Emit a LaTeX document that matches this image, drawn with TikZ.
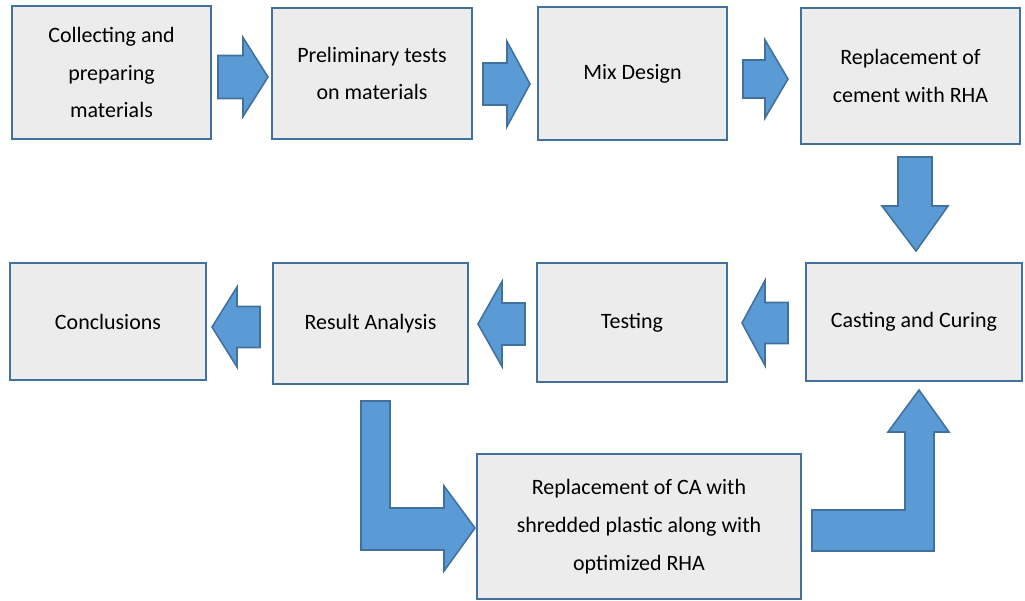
\documentclass[tikz,border=0pt]{standalone}
\usepackage{fontspec}
\setmainfont{Carlito}
\usepackage{tikz}
\definecolor{boxfill}{RGB}{236,236,236}
\definecolor{boxline}{RGB}{65,113,156}
\definecolor{arrowfill}{RGB}{91,155,213}
\tikzset{
  stage/.style={rectangle,draw=boxline,fill=boxfill,line width=1.2pt,align=center,
    font=\fontsize{12.5}{21.5}\selectfont,inner sep=0pt},
  blockarrow/.style={draw=boxline,fill=arrowfill,line width=0.9pt,line join=miter}
}
\begin{document}
\begin{tikzpicture}[x=0.02cm,y=-0.02cm]
  \useasboundingbox (0,0) rectangle (1025,601);

    \node[stage,minimum width=3.98cm,minimum height=2.66cm] (collect) at (111.5,72.5) {Collecting and\\preparing\\materials};
    \node[stage,minimum width=4.00cm,minimum height=2.62cm] (prelim)  at (372,73.5)   {Preliminary tests\\on materials};
    \node[stage,minimum width=3.78cm,minimum height=2.66cm] (mix)     at (632.5,73.5) {Mix Design};
    \node[stage,minimum width=4.38cm,minimum height=2.72cm] (cement)  at (910.5,76)   {Replacement of\\cement with RHA};
    \node[stage,minimum width=4.32cm,minimum height=2.36cm] (casting) at (914,322)    {Casting and Curing};
    \node[stage,minimum width=3.80cm,minimum height=2.38cm] (testing) at (632,322.5)  {Testing};
    \node[stage,minimum width=3.90cm,minimum height=2.42cm] (result)  at (370.5,323.5) {Result Analysis};
    \node[stage,minimum width=3.92cm,minimum height=2.34cm] (concl)   at (108,321.5)  {Conclusions};
    \node[stage,minimum width=6.48cm,minimum height=2.90cm] (plastic) at (639,526.5)  {Replacement of CA with\\shredded plastic along with\\optimized RHA};

    % straight block arrows: tail x / head base x / tip x / centre y / shaft half / head half
    \foreach \tx/\bx/\px/\cy/\sh/\hh in {218/243/268/77/21.5/39.5, 483/507/530/84/21/42.5,
        743/765/788/79/19/39, 788/765/742/323/20.5/42.5, 525/502/478/324/21/42.5,
        260/237/212/327/20.5/40}
      \draw[blockarrow] (\tx,\cy-\sh) -- (\bx,\cy-\sh) -- (\bx,\cy-\hh) -- (\px,\cy)
        -- (\bx,\cy+\hh) -- (\bx,\cy+\sh) -- (\tx,\cy+\sh) -- cycle;

    % cement -> casting
    \draw[blockarrow] (898,157) -- (932,157) -- (932,206) -- (948,206) -- (916,251)
      -- (882,206) -- (898,206) -- cycle;

    % result -> plastic
    \draw[blockarrow] (361,401) -- (390,401) -- (390,508) -- (444,508) -- (444,486)
      -- (475,528) -- (444,571) -- (444,550) -- (361,550) -- cycle;

    % plastic -> casting
    \draw[blockarrow] (812,510) -- (905,510) -- (905,432) -- (888,432) -- (919,390)
      -- (949,432) -- (934,432) -- (934,551) -- (812,551) -- cycle;
\end{tikzpicture}
\end{document}
